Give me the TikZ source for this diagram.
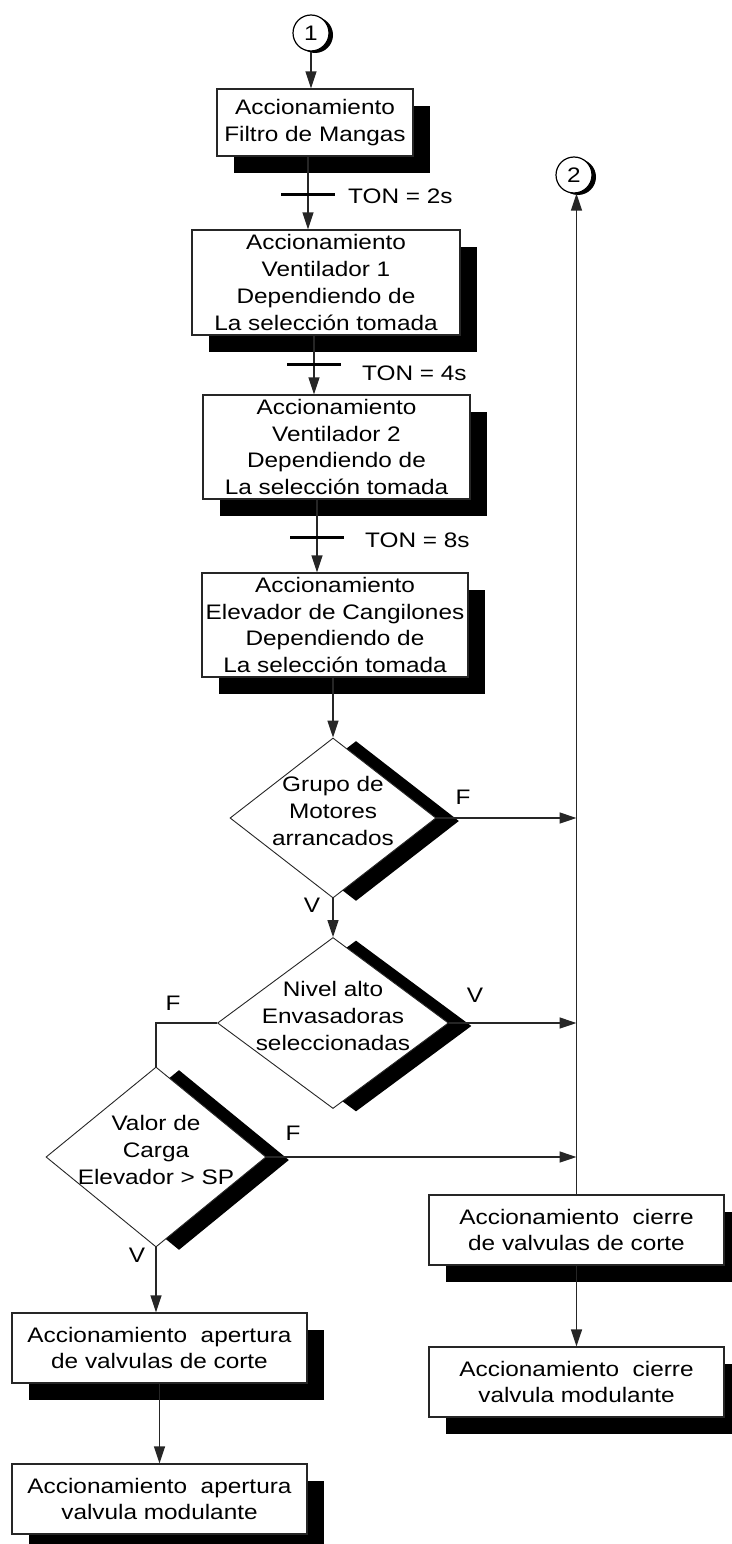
\documentclass[tikz,border=0pt]{standalone}
\usepackage{fontspec}
\setmainfont{Liberation Sans}[FakeStretch=1.16]
\usetikzlibrary{arrows.meta,shapes.geometric,shadows,positioning}

\begin{document}
\begin{tikzpicture}[x=1pt,y=-1pt,
    font=\fontsize{21}{26.7}\selectfont,
    caja/.style={draw=black!85, line width=1.2pt, fill=white, align=center, inner sep=1pt,
      drop shadow={shadow xshift=17pt, shadow yshift=-17pt, fill=black, opacity=1}},
    decision/.style={diamond, draw=black!85, line width=0.9pt, fill=white, inner sep=0pt,
      drop shadow={shadow xshift=23pt, shadow yshift=-3pt, fill=black, opacity=1}},
    dtexto/.style={align=center, yshift=7pt},
    conector/.style={circle, draw=black, line width=1.2pt, fill=white, minimum size=36pt, inner sep=0pt,
      drop shadow={shadow xshift=4pt, shadow yshift=-2pt, fill=black, opacity=1}},
    flecha/.style={draw=black!85, line width=1.4pt, -{Triangle[length=17pt,width=11pt]}},
    linea/.style={draw=black!85, line width=1.4pt},
    barra/.style={draw=black, line width=3pt},
    etiq/.style={inner sep=0pt}]
  \useasboundingbox (0,0) rectangle (731,1544);

  % columna principal
  \node[conector] (c1) at (311,33) {1};
  \node[caja, minimum width=196pt, minimum height=67pt] (b1) at (315,122.5)
    {Accionamiento\\Filtro de Mangas};
  \node[caja, minimum width=268pt, minimum height=105pt] (b2) at (326,282.5)
    {Accionamiento\\Ventilador 1\\Dependiendo de\\La selección tomada};
  \node[caja, minimum width=267pt, minimum height=104pt] (b3) at (336.5,447)
    {Accionamiento\\Ventilador 2\\Dependiendo de\\La selección tomada};
  \node[caja, minimum width=266pt, minimum height=104pt] (b4) at (335,625)
    {Accionamiento\\Elevador de Cangilones\\Dependiendo de\\La selección tomada};

  % decisiones
  \node[decision, minimum width=206pt, minimum height=160pt,
    label={[dtexto]center:Grupo de\\Motores\\arrancados}] (d1) at (333,818) {};
  \node[decision, minimum width=231pt, minimum height=171pt,
    label={[dtexto]center:Nivel alto\\Envasadoras\\seleccionadas}] (d2) at (333,1023) {};
  \node[decision, minimum width=220pt, minimum height=180pt,
    label={[dtexto]center:Valor de\\Carga\\Elevador > SP}] (d3) at (156,1157) {};

  % salidas
  \node[caja, minimum width=295pt, minimum height=70pt] (b5) at (159.5,1348)
    {Accionamiento~ apertura\\de valvulas de corte};
  \node[caja, minimum width=295pt, minimum height=70pt] (b6) at (159.5,1499)
    {Accionamiento~ apertura\\valvula modulante};
  \node[caja, minimum width=295pt, minimum height=70pt] (b7) at (576.5,1230)
    {Accionamiento~ cierre\\de valvulas de corte};
  \node[caja, minimum width=295pt, minimum height=70pt] (b8) at (576.5,1382)
    {Accionamiento~ cierre\\valvula modulante};
  \node[conector] (c2) at (574,175) {2};

  % temporizadores
  \coordinate (t1) at (308,194);
  \coordinate (t2) at (314,364);
  \coordinate (t3) at (317,537);
  \node[etiq, anchor=west] (ton1) at (348,196) {TON = 2s};
  \node[etiq, anchor=west] (ton2) at (362,373) {TON = 4s};
  \node[etiq, anchor=west] (ton3) at (365,540) {TON = 8s};

  % etiquetas V / F
  \node[etiq] (f1) at (463,797) {F};
  \node[etiq] (v1) at (312,905) {V};
  \node[etiq] (v2) at (475,995) {V};
  \node[etiq] (f2) at (173,1003) {F};
  \node[etiq] (f3) at (293,1133) {F};
  \node[etiq] (v3) at (137,1255) {V};

  % conexiones
  \draw[flecha] (c1.south) -- (c1.south |- b1.north);
  \draw[flecha] (b1.south -| t1) -- (b2.north -| t1);
  \draw[flecha] (b2.south -| t2) -- (b3.north -| t2);
  \draw[flecha] (b3.south -| t3) -- (b4.north -| t3);
  \foreach \t in {t1,t2,t3}
    \draw[barra] ([xshift=-27pt]\t) -- ([xshift=27pt]\t);
  \draw[flecha] (b4.south -| d1.north) -- (d1.north);
  \draw[flecha] (d1.south) -- (d2.north);
  \draw[flecha] (d1.east) -- (d1.east -| b7.north);
  \draw[flecha] (d2.east) -- (d2.east -| b7.north);
  \draw[linea] (d2.west) -- (d2.west -| d3.north) -- (d3.north);
  \draw[flecha] (d3.east) -- (d3.east -| b7.north);
  \draw[flecha] (d3.south) -- (d3.south |- b5.north);
  \draw[flecha] (b5.south) -- (b6.north);
  \draw[flecha] (b7.north) -- (b7.north |- c2.south);
  \draw[flecha] (b7.south) -- (b8.north);
\end{tikzpicture}
\end{document}
